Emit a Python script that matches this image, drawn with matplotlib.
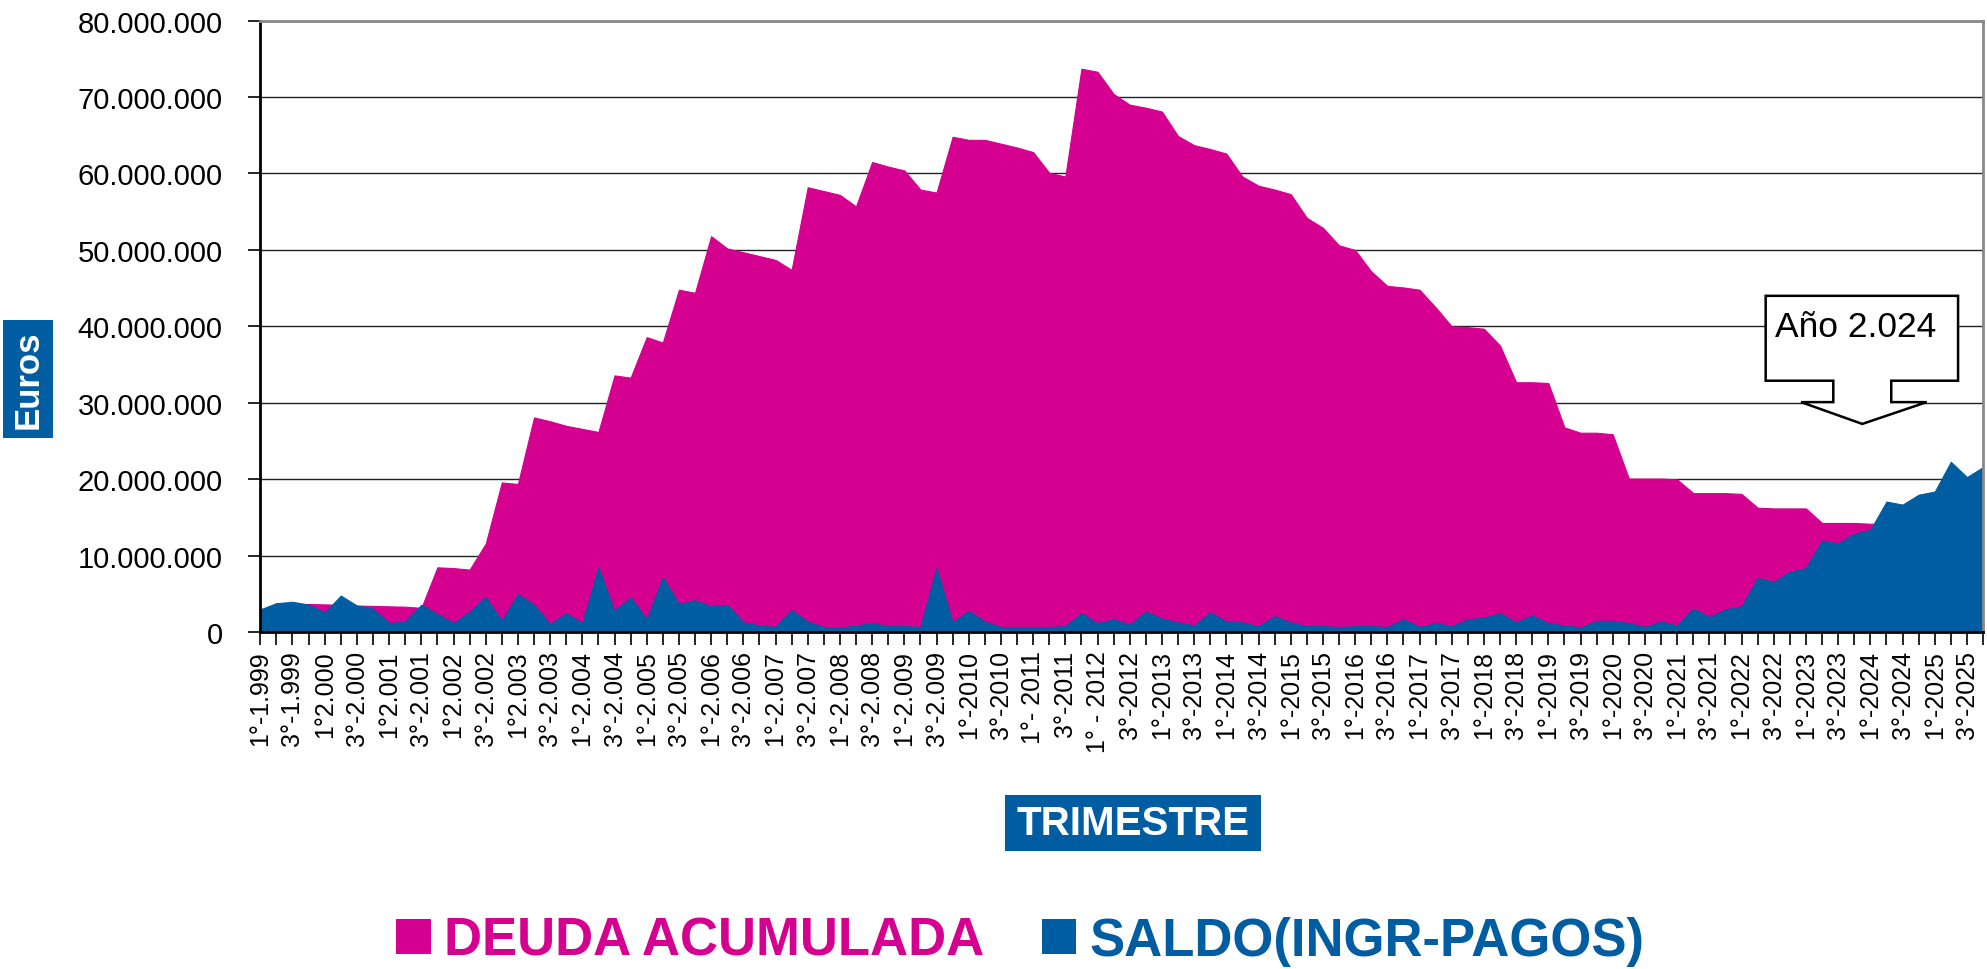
import numpy as np
import matplotlib
matplotlib.use("Agg")
import matplotlib.pyplot as plt
from matplotlib.patches import Patch, Polygon, Rectangle
from matplotlib.ticker import FuncFormatter

plt.rcParams['font.family'] = ['Liberation Sans', 'DejaVu Sans']

PINK = '#D50090'
BLUE = '#005DA2'

# quarterly values, millions of euros, 1st quarter 1999 .. 4th quarter 2025
deuda = [2.9, 3.8, 3.75, 3.7, 3.65, 3.6, 3.5, 3.45, 3.4, 3.35,
         3.2, 8.5, 8.4, 8.2, 11.6, 19.6, 19.4, 28.1, 27.6, 27.0,
         26.6, 26.2, 33.6, 33.3, 38.6, 37.9, 44.8, 44.4, 51.8, 50.2,
         49.7, 49.2, 48.7, 47.4, 58.2, 57.7, 57.2, 55.7, 61.5, 60.9,
         60.4, 57.9, 57.5, 64.8, 64.4, 64.4, 63.9, 63.4, 62.8, 60.1,
         59.6, 73.7, 73.3, 70.4, 69.0, 68.6, 68.1, 64.9, 63.7, 63.2,
         62.6, 59.6, 58.4, 57.9, 57.3, 54.2, 52.9, 50.6, 50.0, 47.2,
         45.3, 45.1, 44.8, 42.5, 40.0, 39.9, 39.7, 37.5, 32.7, 32.7,
         32.6, 26.8, 26.1, 26.1, 25.9, 20.1, 20.1, 20.1, 20.0, 18.2,
         18.2, 18.2, 18.1, 16.3, 16.2, 16.2, 16.2, 14.3, 14.3, 14.3,
         14.2, 14.2, 12.3, 12.3, 12.3, 12.3, 10.4, 10.4]

saldo = [3.0, 3.8, 4.0, 3.6, 2.6, 4.8, 3.5, 3.1, 1.2, 1.4,
         3.6, 2.4, 1.2, 2.7, 4.6, 1.5, 5.0, 3.6, 1.1, 2.5,
         1.2, 8.5, 2.8, 4.6, 1.7, 7.2, 3.7, 4.2, 3.4, 3.6,
         1.3, 0.9, 0.7, 2.9, 1.4, 0.7, 0.6, 0.9, 1.2, 0.8,
         0.8, 0.7, 8.4, 1.3, 2.8, 1.4, 0.7, 0.7, 0.7, 0.7,
         0.8, 2.5, 1.2, 1.7, 1.0, 2.7, 1.8, 1.3, 0.9, 2.6,
         1.4, 1.3, 0.8, 2.1, 1.3, 0.8, 0.8, 0.7, 0.8, 0.8,
         0.7, 1.7, 0.7, 1.2, 0.8, 1.7, 1.9, 2.5, 1.3, 2.2,
         1.2, 0.9, 0.65, 1.5, 1.5, 1.2, 0.7, 1.4, 0.9, 3.1,
         2.0, 3.0, 3.4, 7.1, 6.6, 7.9, 8.4, 12.0, 11.6, 12.9,
         13.4, 17.1, 16.7, 18.0, 18.4, 22.3, 20.3, 21.6]

# labels shown on every second quarter
etiquetas = ['1°-1.999', '3°-1.999', '1°2.000', '3°-2.000', '1°2.001', '3°-2.001',
             '1°2.002', '3°-2.002', '1°2.003', '3°-2.003', '1°-2.004', '3°-2.004',
             '1°-2.005', '3°-2.005', '1°-2.006', '3°-2.006', '1°-2.007', '3°-2.007',
             '1°-2.008', '3°-2.008', '1°-2.009', '3°-2.009', '1°-2010', '3°-2010',
             '1°- 2011', '3°-2011', '1° - 2012', '3°-2012', '1°-2013', '3°-2013',
             '1°-2014', '3°-2014', '1°-2015', '3°-2015', '1°-2016', '3°-2016',
             '1°-2017', '3°-2017', '1°-2018', '3°-2018', '1°-2019', '3°-2019',
             '1°-2020', '3°-2020', '1°-2021', '3°-2021', '1°-2022', '3°-2022',
             '1°-2023', '3°-2023', '1°-2024', '3°-2024', '1°-2025', '3°-2025']

series = ['DEUDA ACUMULADA', 'SALDO(INGR-PAGOS)']

fig = plt.figure(figsize=(19.87, 9.70), dpi=100)
ax = fig.add_axes([0.131, 0.3471, 0.867, 0.6307])

x = np.arange(len(deuda))
ax.fill_between(x, deuda, color=PINK, lw=0.8, zorder=1)
ax.fill_between(x, saldo, color=BLUE, lw=0.8, zorder=1.1)

ax.set_xlim(0, len(deuda) - 1)
ax.set_ylim(0, 80)
ax.set_yticks(np.arange(0, 81, 10))
ax.yaxis.set_major_formatter(
    FuncFormatter(lambda v, p: f"{int(round(v * 1e6)):,}".replace(",", ".")))
ax.set_axisbelow(True)
ax.grid(axis='y', color='#222222', lw=1.0)

ax.set_xticks(x[::2])
ax.set_xticklabels(etiquetas, rotation=90, fontsize=18)
ax.set_xticks(x, minor=True)
ax.tick_params(axis='x', which='both', direction='out', length=9, width=1.2, pad=4)
ax.tick_params(axis='y', direction='out', length=9, width=1.2, labelsize=21, pad=18)

for s in ['top', 'right']:
    ax.spines[s].set_color('#888888')
    ax.spines[s].set_linewidth(2)
for s in ['left', 'bottom']:
    ax.spines[s].set_color('black')
    ax.spines[s].set_linewidth(2)

# callout "Año 2.024"
callout = [(93.5, 44.0), (105.45, 44.0), (105.45, 32.9), (101.3, 32.9), (101.3, 30.1),
           (103.5, 30.1), (99.5, 27.25), (95.7, 30.1), (97.7, 30.1), (97.7, 32.9),
           (93.5, 32.9)]
ax.add_patch(Polygon(callout, closed=True, fc='white', ec='black', lw=1.8,
                     joinstyle='miter', zorder=5))
ax.text(94.1, 38.8, 'Año 2.024', fontsize=25.5, ha='left', va='baseline', zorder=6)

# axis titles in blue boxes
fig.patches.append(Rectangle((3 / 1987, 1 - 439 / 970), 50 / 1987, 118 / 970,
                             transform=fig.transFigure, fc=BLUE, ec='none'))
fig.text(28 / 1987, 1 - 380 / 970, 'Euros', rotation=90, color='white',
         fontsize=25, fontweight='bold', ha='center', va='center')
fig.patches.append(Rectangle((1005 / 1987, 1 - 852 / 970), 256 / 1987, 56 / 970,
                             transform=fig.transFigure, fc=BLUE, ec='none'))
fig.text(1133 / 1987, 1 - 824 / 970, 'TRIMESTRE', color='white',
         fontsize=29, fontweight='bold', ha='center', va='center')

leg = fig.legend(handles=[Patch(fc=PINK), Patch(fc=BLUE)], labels=series,
                 loc='center', bbox_to_anchor=(0.5136, 0.029), ncol=2, frameon=False,
                 prop={'weight': 'bold', 'size': 38}, handlelength=0.65,
                 handleheight=0.65, handletextpad=0.25, columnspacing=1.1)
for t, c in zip(leg.get_texts(), [PINK, BLUE]):
    t.set_color(c)

fig.savefig('out.png', dpi=100)
